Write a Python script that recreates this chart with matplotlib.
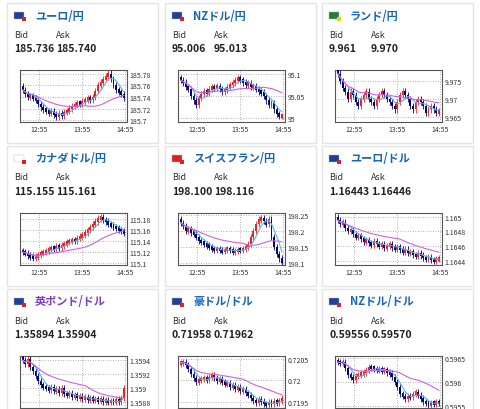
import matplotlib
matplotlib.use("Agg")
import matplotlib.pyplot as plt
from matplotlib.patches import Rectangle
import numpy as np
import pandas as pd

plt.rcParams['font.family'] = ['Noto Sans CJK JP', 'DejaVu Sans']

titles = ["ユーロ/円", "NZドル/円", "ランド/円", "カナダドル/円", "スイスフラン/円", "ユーロ/ドル",
          "英ポンド/ドル", "豪ドル/ドル", "NZドル/ドル"]
bids = ["185.736", "95.006", "9.961", "115.155", "198.100", "1.16443", "1.35894", "0.71958", "0.59556"]
asks = ["185.740", "95.013", "9.970", "115.161", "198.116", "1.16446", "1.35904", "0.71962", "0.59570"]
time_labels = ["12:55", "13:55", "14:55"]

c1 = [185.752,185.745,185.740,185.742,185.738,185.735,185.728,185.722,185.718,185.716,185.712,185.715,185.710,185.706,185.712,185.708,185.714,185.716,185.720,185.724,185.726,185.730,185.728,185.732,185.735,185.738,185.735,185.740,185.750,185.760,185.765,185.770,185.775,185.780,185.770,185.760,185.752,185.748,185.745,185.738]
c2 = [95.085,95.080,95.070,95.065,95.050,95.040,95.030,95.045,95.055,95.060,95.058,95.065,95.070,95.068,95.072,95.066,95.060,95.064,95.070,95.075,95.080,95.085,95.090,95.086,95.080,95.075,95.078,95.070,95.072,95.065,95.060,95.058,95.050,95.040,95.030,95.035,95.020,95.010,95.005,95.006]
c3 = [9.977,9.975,9.973,9.972,9.970,9.972,9.971,9.969,9.968,9.970,9.971,9.972,9.970,9.969,9.968,9.970,9.971,9.972,9.971,9.970,9.969,9.968,9.967,9.969,9.971,9.972,9.971,9.970,9.968,9.967,9.969,9.970,9.969,9.968,9.966,9.967,9.968,9.967,9.966,9.9665]
c4 = [115.120,115.118,115.114,115.112,115.110,115.112,115.115,115.118,115.120,115.122,115.125,115.128,115.126,115.130,115.128,115.132,115.135,115.138,115.140,115.142,115.140,115.145,115.148,115.150,115.155,115.160,115.165,115.170,115.175,115.180,115.182,115.178,115.175,115.170,115.168,115.165,115.163,115.160,115.158,115.155]
c5 = [198.225,198.215,198.200,198.205,198.195,198.190,198.180,198.170,198.165,198.160,198.155,198.150,198.145,198.140,198.145,198.140,198.138,198.142,198.145,198.140,198.135,198.138,198.142,198.140,198.145,198.150,198.160,198.180,198.200,198.220,198.235,198.240,198.230,198.220,198.235,198.180,198.150,198.130,198.115,198.100]
c6 = [1.16495,1.16490,1.16492,1.16485,1.16480,1.16482,1.16476,1.16472,1.16474,1.16470,1.16466,1.16468,1.16464,1.16462,1.16466,1.16463,1.16460,1.16462,1.16458,1.16460,1.16462,1.16458,1.16456,1.16459,1.16455,1.16452,1.16455,1.16450,1.16452,1.16448,1.16446,1.16450,1.16447,1.16444,1.16442,1.16445,1.16441,1.16439,1.16442,1.16443]
c7 = [1.35940,1.35935,1.35942,1.35930,1.35925,1.35918,1.35910,1.35905,1.35902,1.35900,1.35898,1.35902,1.35896,1.35899,1.35894,1.35900,1.35892,1.35890,1.35893,1.35888,1.35891,1.35887,1.35889,1.35885,1.35887,1.35884,1.35886,1.35883,1.35885,1.35882,1.35884,1.35881,1.35883,1.35880,1.35882,1.35880,1.35884,1.35881,1.35886,1.35900]
c8 = [0.72040,0.72042,0.72035,0.72025,0.72015,0.72005,0.71995,0.72000,0.72002,0.72005,0.72000,0.72008,0.72012,0.72005,0.71998,0.72002,0.71995,0.71990,0.71992,0.71985,0.71988,0.71980,0.71983,0.71975,0.71978,0.71970,0.71965,0.71958,0.71952,0.71948,0.71955,0.71950,0.71945,0.71943,0.71948,0.71945,0.71950,0.71948,0.71952,0.71958]
c9 = [0.59642,0.59640,0.59643,0.59630,0.59615,0.59610,0.59605,0.59612,0.59615,0.59618,0.59620,0.59625,0.59632,0.59630,0.59628,0.59625,0.59627,0.59624,0.59626,0.59620,0.59618,0.59610,0.59600,0.59590,0.59575,0.59570,0.59565,0.59570,0.59568,0.59575,0.59578,0.59572,0.59565,0.59558,0.59555,0.59552,0.59556,0.59554,0.59558,0.59556]
closes = [c1, c2, c3, c4, c5, c6, c7, c8, c9]
yticks = [[185.7,185.72,185.74,185.76,185.78], [95,95.05,95.1], [9.965,9.97,9.975],
          [115.1,115.12,115.14,115.16,115.18], [198.1,198.15,198.2,198.25],
          [1.1644,1.1646,1.1648,1.165], [1.3588,1.359,1.3592,1.3594], [0.7195,0.72,0.7205],
          [0.5955,0.596,0.5965]]
ytick_labels = [["185.7","185.72","185.74","185.76","185.78"], ["95","95.05","95.1"],
                ["9.965","9.97","9.975"], ["115.1","115.12","115.14","115.16","115.18"],
                ["198.1","198.15","198.2","198.25"], ["1.1644","1.1646","1.1648","1.165"],
                ["1.3588","1.359","1.3592","1.3594"], ["0.7195","0.72","0.7205"],
                ["0.5955","0.596","0.5965"]]
ylims = [(185.697,185.786),(94.992,95.108),(9.9635,9.978),(115.097,115.19),(198.095,198.255),
         (1.16434,1.16505),(1.35872,1.35946),(0.71935,0.72056),(0.59545,0.59655)]
flags = [["#1f3f9a","#e02020"],["#1f3f9a","#e02020"],["#2a7a3a","#ffcc00"],["#ffffff","#e02020"],
         ["#e02020","#e02020"],["#1f3f9a","#e02020"],["#1f3f9a","#e02020"],["#1f3f9a","#e02020"],["#1f3f9a","#e02020"]]

W, H = 480, 410
fig = plt.figure(figsize=(4.8, 4.1), dpi=100)
fig.patch.set_facecolor("white")

card_x = [7, 165, 322]
card_y = [4, 147, 290]
for i in range(9):
    r, c = divmod(i, 3)
    cx, cy = card_x[c], card_y[r]
    fig.patches.append(Rectangle((cx / W, 1 - (cy + 140) / H), 151 / W, 140 / H,
                                 transform=fig.transFigure, fill=False, ec="#e4e4e4", lw=1))
    fig.patches.append(Rectangle(((cx + 7) / W, 1 - (cy + 16) / H), 10 / W, 7 / H,
                                 transform=fig.transFigure, fc=flags[i][0], ec="#bbbbbb", lw=0.3))
    fig.patches.append(Rectangle(((cx + 15) / W, 1 - (cy + 18) / H), 4 / W, 4 / H,
                                 transform=fig.transFigure, fc=flags[i][1], ec="none"))
    tcol = "#7b3fc4" if i == 6 else "#1565c0"
    fig.text((cx + 28) / W, 1 - (cy + 12) / H, titles[i], fontsize=8, color=tcol,
             va="center", ha="left", fontweight="bold")
    fig.text((cx + 7) / W, 1 - (cy + 31) / H, "Bid", fontsize=6.5, color="#333333", va="center")
    fig.text((cx + 49) / W, 1 - (cy + 31) / H, "Ask", fontsize=6.5, color="#333333", va="center")
    fig.text((cx + 7) / W, 1 - (cy + 45) / H, bids[i], fontsize=7.5, color="#222222", va="center", fontweight="bold")
    fig.text((cx + 49) / W, 1 - (cy + 45) / H, asks[i], fontsize=7.5, color="#222222", va="center", fontweight="bold")

    ax = fig.add_axes([(cx + 13) / W, 1 - (cy + 119) / H, 107 / W, 52 / H])
    cl = np.array(closes[i])
    n = len(cl)
    op = np.concatenate([[cl[0] + (cl[0] - cl[1])], cl[:-1]])
    x = np.arange(n)
    up = cl >= op
    colors = np.where(up, "#ff1a1a", "#000080")
    rng = ylims[i][1] - ylims[i][0]
    hi = np.maximum(op, cl) + rng * 0.06
    lo = np.minimum(op, cl) - rng * 0.06
    ax.vlines(x, lo, hi, colors=colors, lw=0.6, zorder=3)
    body = np.maximum(np.abs(cl - op), rng * 0.07)
    bot = (op + cl) / 2 - body / 2
    ax.bar(x, body, bottom=bot, width=0.7, color=colors, zorder=4)
    s = pd.Series(cl)
    ax.plot(x, s.rolling(5, min_periods=1).mean(), color="#4fb8f0", lw=0.8, zorder=5)
    ax.plot(x, s.rolling(25, min_periods=1).mean(), color="#d45ee8", lw=0.8, zorder=5)
    ax.set_xlim(-1, n + 0.2)
    ax.set_ylim(*ylims[i])
    k = 0.4 * (n + 1.2)
    xt = [n - 0.6 - 2 * k, n - 0.6 - k, n - 0.6]
    ax.set_xticks(xt)
    ax.set_xticklabels(time_labels, fontsize=5, color="#333333")
    ax.set_yticks(yticks[i])
    ax.set_yticklabels(ytick_labels[i], fontsize=5, color="#333333")
    ax.yaxis.tick_right()
    ax.tick_params(length=0, pad=2)
    ax.grid(True, color="#999999", ls=(0, (1, 2)), lw=0.6)
    for sp in ax.spines.values():
        sp.set_color("#555555")
        sp.set_linewidth(0.8)

fig.savefig("out.png", dpi=100)
